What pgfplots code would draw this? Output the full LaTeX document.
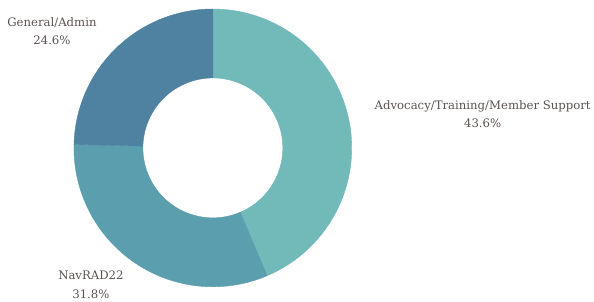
\documentclass[border=0pt]{standalone}
\usepackage{pgfplots}
\usepackage{pgfplotstable}
\usepackage{fontspec}
\setmainfont{DejaVu Serif}
\pgfplotsset{compat=1.18}
\definecolor{cAdv}{HTML}{72B9BA}
\definecolor{cNav}{HTML}{5B9FAE}
\definecolor{cGen}{HTML}{4F81A0}
\definecolor{txt}{HTML}{5A5350}
\pgfplotstableread{
name value
Advocacy 43.6
NavRAD 31.8
General 24.6
}\slices
\pgfplotstablegetelem{0}{value}\of\slices \let\vA\pgfplotsretval
\pgfplotstablegetelem{1}{value}\of\slices \let\vB\pgfplotsretval
\pgfplotstablegetelem{2}{value}\of\slices \let\vC\pgfplotsretval
\pgfmathsetmacro{\aA}{90}
\pgfmathsetmacro{\aB}{90-3.6*\vA}
\pgfmathsetmacro{\aC}{\aB-3.6*\vB}
\pgfmathsetmacro{\aD}{\aC-3.6*\vC}
\def\cx{213}\def\cy{152}\def\ro{139}\def\ri{70}
\newcommand{\slice}[3]{%
\addplot[fill=#3, draw=#3, line width=0.4pt, domain=0:3, samples=181]
 ({x<1.5 ? \cx+\ro*cos(#1+(#2-#1)*min(x,1)) : \cx+\ri*cos(#2+(#1-#2)*min(max(x-2,0),1))},
  {x<1.5 ? \cy+\ro*sin(#1+(#2-#1)*min(x,1)) : \cy+\ri*sin(#2+(#1-#2)*min(max(x-2,0),1))}) -- cycle;}
\begin{document}
\begin{tikzpicture}
\begin{axis}[scale only axis, width=594pt, height=300pt,
  xmin=0, xmax=594, ymin=0, ymax=300, hide axis, clip=false]
\path (axis cs:0,0) rectangle (axis cs:594,300);
\slice{\aA}{\aB}{cAdv}
\slice{\aB}{\aC}{cNav}
\slice{\aC}{\aD}{cGen}
\tikzset{lbl/.style={txt, font=\fontsize{11.7}{18.5}\selectfont, align=center}}
\node[lbl] at (axis cs:483,186) {Advocacy/Training/Member Support\\43.6\%};
\node[lbl] at (axis cs:91,15) {NavRAD22\\31.8\%};
\node[lbl] at (axis cs:52,269) {General/Admin\\24.6\%};
\end{axis}
\end{tikzpicture}
\end{document}
